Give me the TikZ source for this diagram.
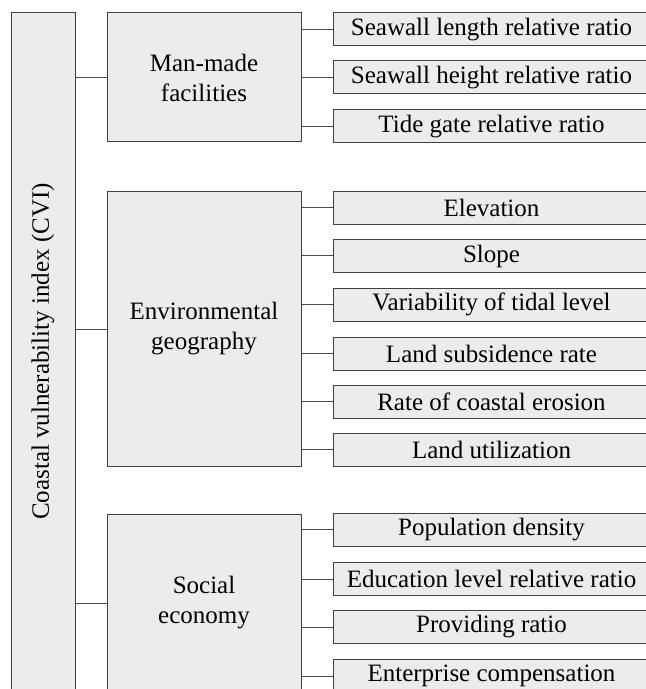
\documentclass[tikz,border=0pt]{standalone}
\usepackage{fontspec}
\setmainfont{Liberation Serif}
\usetikzlibrary{positioning}
\tikzset{
  box/.style={draw=black!75, fill=gray!15, line width=0.5pt, inner sep=0pt, align=center, font=\fontsize{12.5}{15}\selectfont},
  grpbox/.style={box, minimum width=97pt},
  leafbox/.style={box, minimum width=158.5pt, minimum height=16.5pt},
  link/.style={draw=black!70, line width=0.5pt}
}
\begin{document}
\begin{tikzpicture}[x=0.5pt, y=-0.5pt]

  \useasboundingbox (0,0) rectangle (646,689);
  \clip (0,0) rectangle (646,689);

  \newcommand\LX{491.5};

  % root
  \node[box, rotate=90, minimum width=338.5pt, minimum height=32pt] (cvi) at (43,351.5) {Coastal vulnerability index (CVI)};

  % groups
  \node[grpbox, minimum height=64.5pt] (man) at (204,77.5) {Man-made\\facilities};
  \node[grpbox, minimum height=137pt] (env) at (204,329) {Environmental\\geography};
  \node[grpbox, minimum height=89pt] (soc) at (204,603) {Social\\economy};

  \foreach \g in {man,env,soc}
    \draw[link] (cvi.south |- \g.west) -- (\g.west); %% root->group

  % leaves
  \foreach \n/\y/\t in {sl/29.5/Seawall length relative ratio,
                        sh/77.5/Seawall height relative ratio,
                        tg/126.5/Tide gate relative ratio}{
    \node[leafbox] (\n) at (\LX,\y) {\t};
    \draw[link] (man.east |- \n.west) -- (\n.west);
  }
  \foreach \n/\y/\t in {el/208/Elevation,
                        sp/256/Slope,
                        vt/304.5/Variability of tidal level,
                        ls/353.5/Land subsidence rate,
                        ce/401.5/Rate of coastal erosion,
                        lu/449.5/Land utilization}{
    \node[leafbox] (\n) at (\LX,\y) {\t};
    \draw[link] (env.east |- \n.west) -- (\n.west);
  }
  \foreach \n/\y/\t in {pd/529.5/Population density,
                        ed/579/Education level relative ratio,
                        pr/627/Providing ratio,
                        ec/676/Enterprise compensation}{
    \node[leafbox] (\n) at (\LX,\y) {\t};
    \draw[link] (soc.east |- \n.west) -- (\n.west);
  }

\end{tikzpicture}
\end{document}
